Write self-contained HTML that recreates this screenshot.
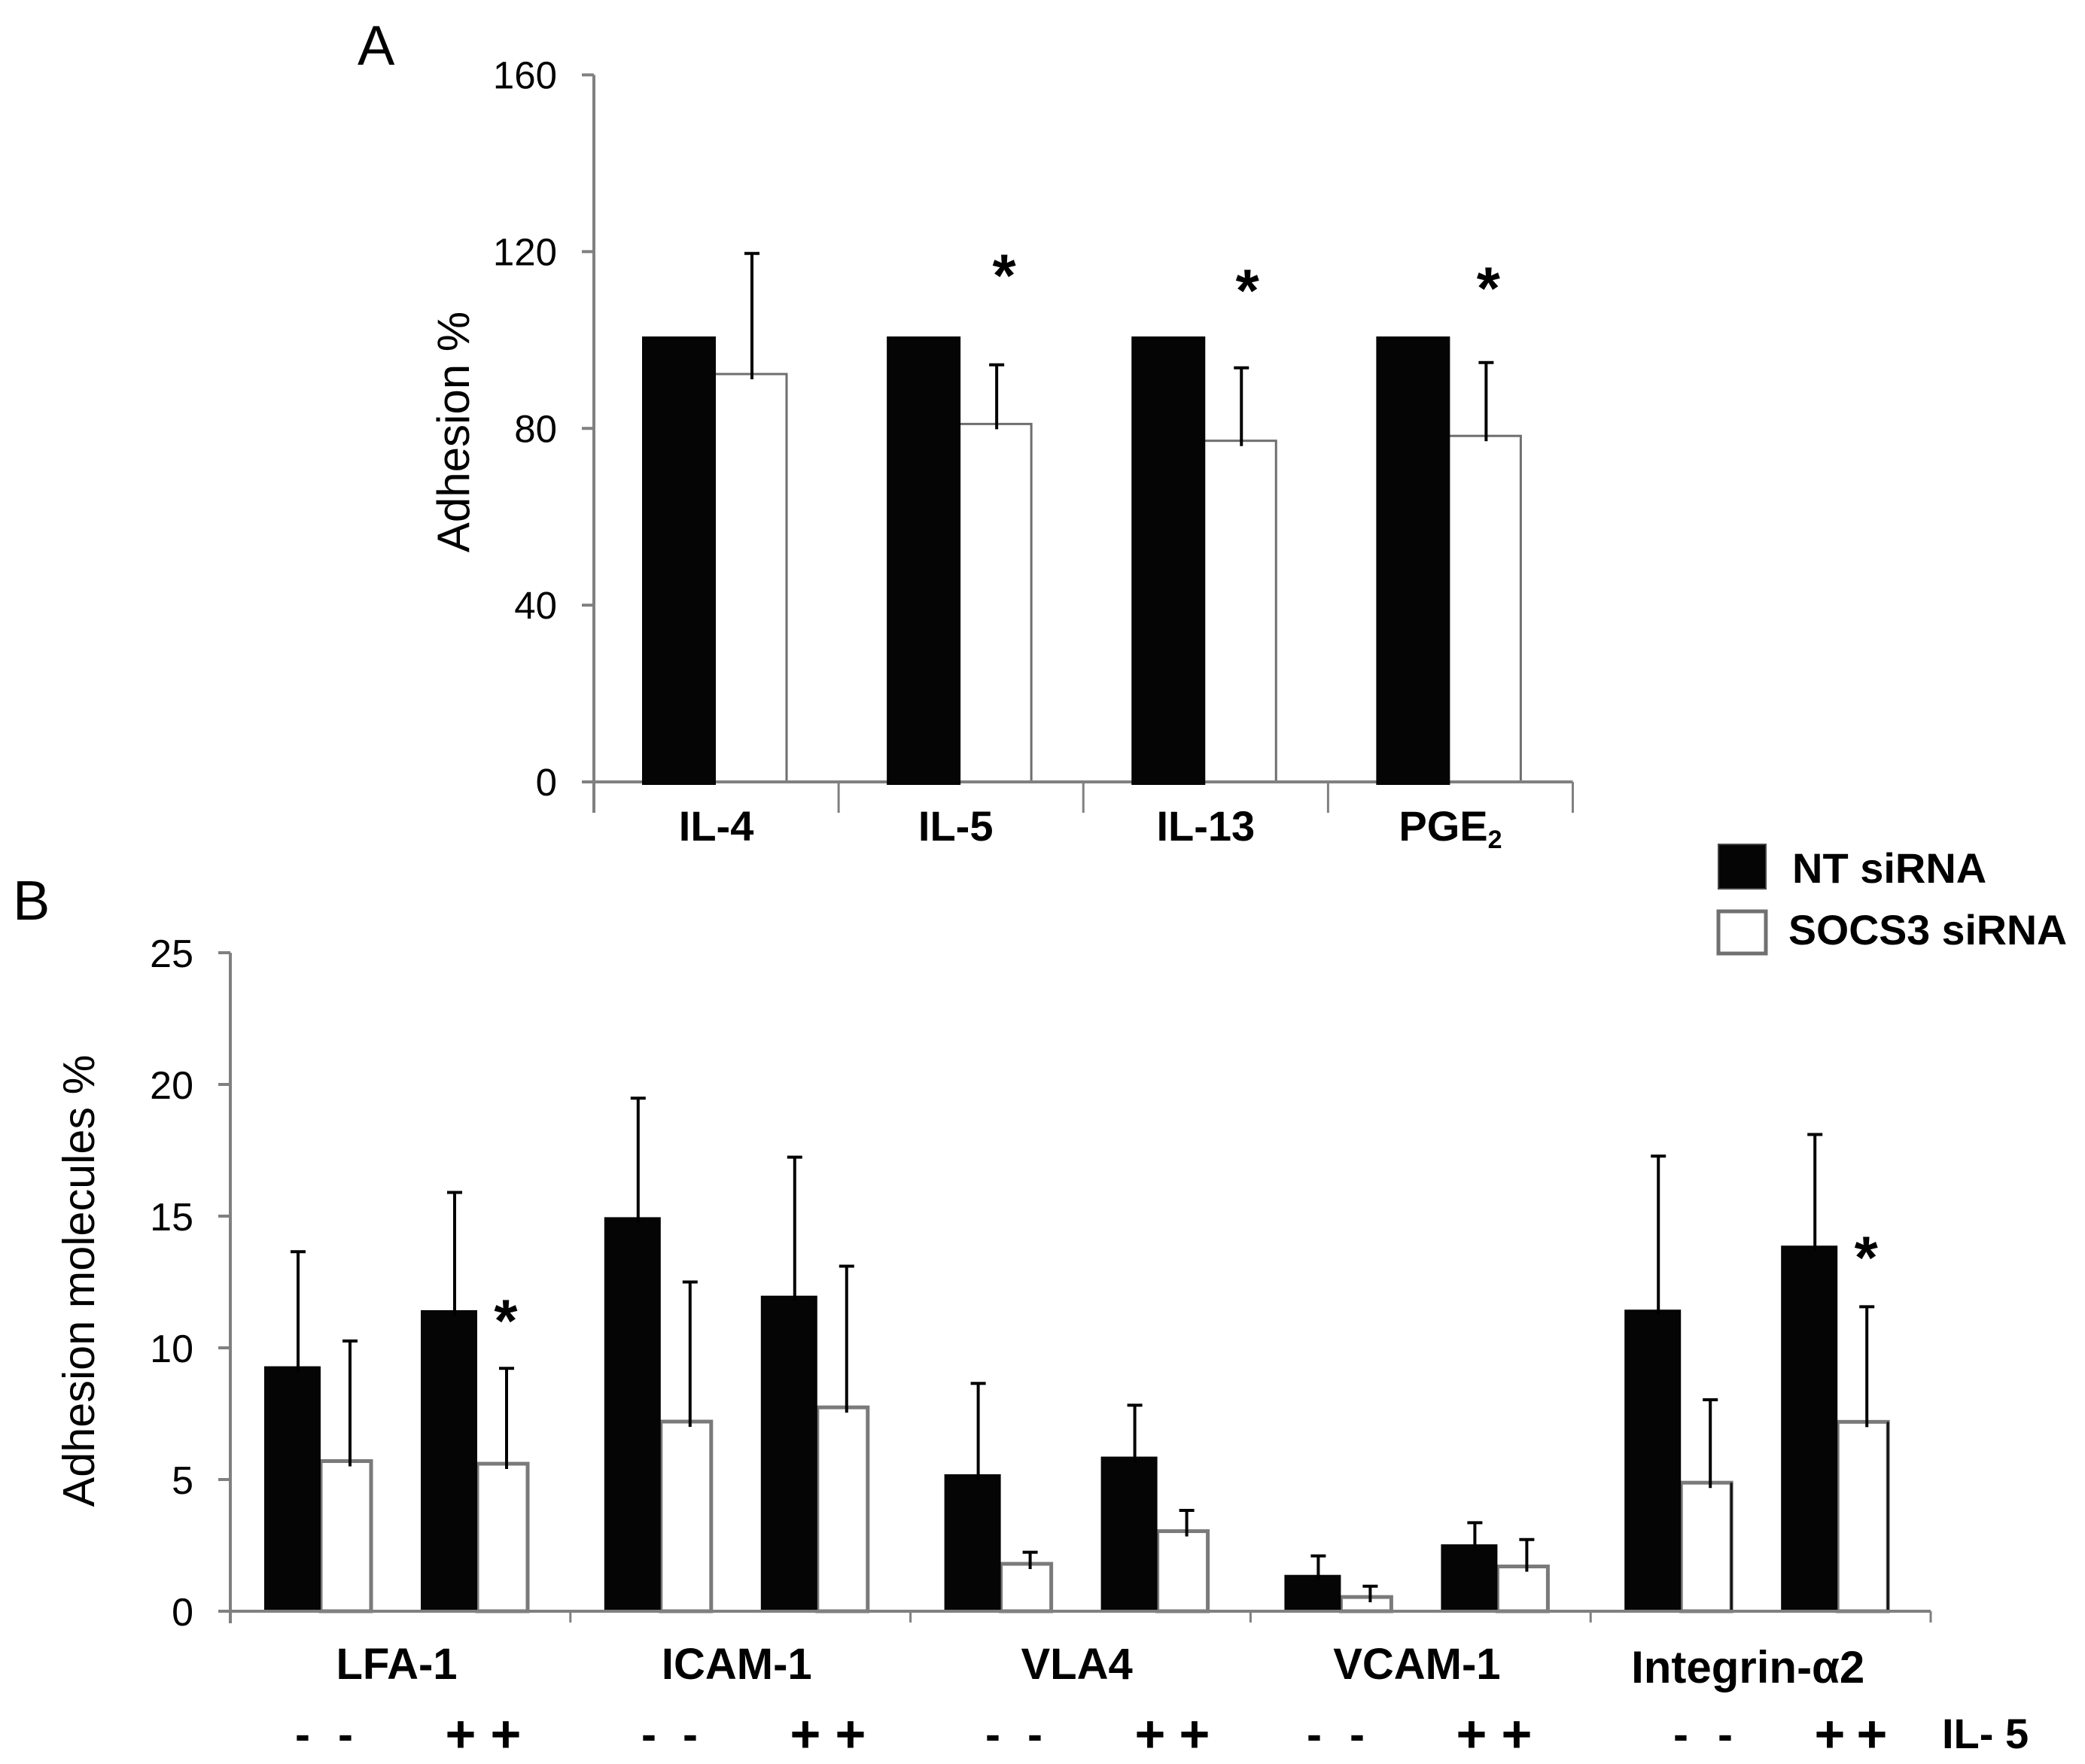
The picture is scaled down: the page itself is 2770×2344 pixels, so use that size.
<!DOCTYPE html>
<html lang="en">
<head>
<meta charset="utf-8">
<title>Adhesion charts</title>
<style>
  html, body { margin: 0; padding: 0; background: #fff; }
  svg { display: block; }
  text { font-family: "Liberation Sans", "DejaVu Sans", sans-serif; fill: #000; }
  .bold { font-weight: bold; }
  .sign-plus { font-weight: bold; font-size: 70px; text-anchor: middle; }
  .sign-minus { font-weight: bold; font-size: 60px; text-anchor: middle; }
</style>
</head>
<body>
<svg id="figure" xmlns="http://www.w3.org/2000/svg" width="2770" height="2344" viewBox="0 0 2770 2344">
  <rect x="0" y="0" width="2770" height="2344" fill="#fff"/>
  <text x="475" y="86" font-size="74">A</text>
  <text x="17" y="1222" font-size="74">B</text>
  <text transform="translate(623 574) rotate(-90)" text-anchor="middle" font-size="60">Adhesion %</text>
  <text transform="translate(125 1702) rotate(-90)" text-anchor="middle" font-size="59.4">Adhesion molecules %</text>
  <g>
    <rect x="2283" y="1122" width="63" height="59" fill="#050505" stroke="#444" stroke-width="2"/>
    <text class="bold" x="2381" y="1173" font-size="56">NT siRNA</text>
    <rect x="2283" y="1211" width="63" height="56" fill="#fff" stroke="#707070" stroke-width="5"/>
    <text class="bold" x="2376" y="1255" font-size="55.5">SOCS3 siRNA</text>
  </g>
  <g>
    <text class="sign-minus" x="402" y="2325">-</text>
    <text class="sign-minus" x="459" y="2325">-</text>
    <text class="sign-plus" x="612" y="2328">+</text>
    <text class="sign-plus" x="672" y="2328">+</text>
    <text class="sign-minus" x="862" y="2325">-</text>
    <text class="sign-minus" x="917" y="2325">-</text>
    <text class="sign-plus" x="1070" y="2328">+</text>
    <text class="sign-plus" x="1130" y="2328">+</text>
    <text class="sign-minus" x="1319" y="2325">-</text>
    <text class="sign-minus" x="1375" y="2325">-</text>
    <text class="sign-plus" x="1528" y="2328">+</text>
    <text class="sign-plus" x="1587" y="2328">+</text>
    <text class="sign-minus" x="1746" y="2325">-</text>
    <text class="sign-minus" x="1803" y="2325">-</text>
    <text class="sign-plus" x="1955" y="2328">+</text>
    <text class="sign-plus" x="2015" y="2328">+</text>
    <text class="sign-minus" x="2233" y="2325">-</text>
    <text class="sign-minus" x="2292" y="2325">-</text>
    <text class="sign-plus" x="2431" y="2328">+</text>
    <text class="sign-plus" x="2487" y="2328">+</text>
    <text class="bold" x="2580" y="2323" font-size="56">IL- 5</text>
  </g>
  <g id="chart-a"></g>
  <g id="chart-b"></g>
</svg>
<script>
// Panel A data
const categoriesA = ['IL-4', 'IL-5', 'IL-13', 'PGE'];
const subscriptsA = ['', '', '', '2'];
const ntValuesA = [100.8, 100.8, 100.8, 100.8];
const socsValuesA = [92.3, 81, 77.2, 78.3];
const socsErrorTopsA = [119.6, 94.4, 93.7, 94.9];
const starCategoriesA = [1, 2, 3];
const starValuesA = [116.4, 113, 113.5];
const ticksA = [0, 40, 80, 120, 160];

// Panel B data
const categoriesB = ['LFA-1', 'ICAM-1', 'VLA4', 'VCAM-1', 'Integrin-\u03B12'];
const ntValuesB = [9.3, 11.43, 14.96, 11.98, 5.2, 5.87, 1.38, 2.54, 11.45, 13.88];
const socsValuesB = [5.7, 5.6, 7.2, 7.74, 1.8, 3.04, 0.54, 1.7, 4.88, 7.19];
const ntErrorTopsB = [13.65, 15.9, 19.48, 17.24, 8.65, 7.82, 2.1, 3.36, 17.28, 18.1];
const socsErrorTopsB = [10.26, 9.22, 12.5, 13.1, 2.24, 3.83, 0.95, 2.72, 8.03, 11.56];
const starBarsB = [1, 9];
const starValuesB = [11.3, 13.7];
const ticksB = [0, 5, 10, 15, 20, 25];

const NS = 'http://www.w3.org/2000/svg';
function mk(parent, tag, attrs, txt) {
  const el = document.createElementNS(NS, tag);
  for (const k in attrs) el.setAttribute(k, attrs[k]);
  if (txt !== undefined) el.textContent = txt;
  parent.appendChild(el);
  return el;
}
const AXIS = '#808080';

// ---------- Panel A ----------
const ga = document.getElementById('chart-a');
const yA = v => 1039 - v * (1039 - 99.5) / 160;
const bandA = (2089.5 - 789) / categoriesA.length;
const xA = i => 789 + bandA * i;

function axisLine(parent, x1, y1, x2, y2, w) {
  return mk(parent, 'line', { x1: x1, y1: y1, x2: x2, y2: y2, stroke: AXIS, 'stroke-width': w });
}

let e;
e = axisLine(ga, 789, yA(160), 789, 1080, 4);


ticksA.forEach(t => {
  const l = axisLine(ga, 773, yA(t), 789, yA(t), 4);
  
  
  const s = mk(ga, 'text', { x: 740, y: yA(t) + 18, 'text-anchor': 'end', 'font-size': 51 }, String(t));
  
  
});

categoriesA.forEach((c, i) => {
  const x0 = xA(i) + 64;
  const sv = mk(ga, 'rect', { x: x0 + 96, y: yA(socsValuesA[i]), width: 96, height: 1039 - yA(socsValuesA[i]), fill: '#fff', stroke: '#6e6e6e', 'stroke-width': 3 });
  
  
  const cx = x0 + 146;
  const v = mk(ga, 'line', { x1: cx, y1: yA(socsErrorTopsA[i]), x2: cx, y2: yA(socsValuesA[i]) + 7, stroke: '#000', 'stroke-width': 4 });
  
  
  const cap = mk(ga, 'line', { x1: cx - 10, y1: yA(socsErrorTopsA[i]), x2: cx + 10, y2: yA(socsErrorTopsA[i]), stroke: '#000', 'stroke-width': 4 });
  
  
});

e = axisLine(ga, 773, 1039, 2089.5, 1039, 4);


for (let i = 1; i <= categoriesA.length; i++) {
  const t = axisLine(ga, xA(i), 1039, xA(i), 1080, 3);
  
  
}

function labelNudgeA(i) { return i === 1 ? -7 : 0; }
categoriesA.forEach((c, i) => {
  const x0 = xA(i) + 64;
  const b = mk(ga, 'rect', { x: x0, y: yA(ntValuesA[i]), width: 98, height: 1043 - yA(ntValuesA[i]), fill: '#050505' });
  
  
  const lab = mk(ga, 'text', { x: xA(i) + bandA / 2 + labelNudgeA(i), y: 1117, 'text-anchor': 'middle', 'font-size': 56, class: 'bold' }, c);
  
  
  if (subscriptsA[i]) {
    const ts = mk(lab, 'tspan', { dy: 10, 'font-size': 34 }, subscriptsA[i]);
    
    
  }
});

function starNudgeA(c) { return c === 3 ? -5 : c === 1 ? 2 : 0; }
starCategoriesA.forEach((c, i) => {
  const s = mk(ga, 'text', { x: xA(c) + 64 + 146 + 8 + starNudgeA(c), y: yA(starValuesA[i]) + 38, 'text-anchor': 'middle', 'font-size': 80, class: 'bold' }, '*');
  
  
});

// ---------- Panel B ----------
const gb = document.getElementById('chart-b');
const yB = v => 2141 - v * 35;
const bandB = (2565 - 306) / categoriesB.length;
const xB = i => 306 + bandB * i;
const barLeftB = i => xB(Math.floor(i / 2)) + 45 + (i % 2) * 208;

e = axisLine(gb, 306, yB(25), 306, 2157, 4);


ticksB.forEach(t => {
  const l = axisLine(gb, 290, yB(t), 306, yB(t), 4);
  
  
  const s = mk(gb, 'text', { x: 257, y: yB(t) + 19, 'text-anchor': 'end', 'font-size': 52 }, String(t));
  
  
});

ntValuesB.forEach((val, i) => {
  const x0 = barLeftB(i);
  const sv = mk(gb, 'rect', { x: x0 + 75, y: yB(socsValuesB[i]), width: 67, height: 2141 - yB(socsValuesB[i]), fill: '#fff', stroke: '#7a7a7a', 'stroke-width': 5 });
  
  
  if (i >= 8) {
    const edge = mk(gb, 'line', { x1: x0 + 142, y1: yB(socsValuesB[i]), x2: x0 + 142, y2: 2141, stroke: '#111', 'stroke-width': 3 });
    
    
  }
  const b = mk(gb, 'rect', { x: x0, y: yB(val), width: 75, height: 2141 - yB(val), fill: '#050505' });
  
  
});

e = axisLine(gb, 290, 2141, 2565, 2141, 4);


for (let i = 1; i <= categoriesB.length; i++) {
  const t = axisLine(gb, xB(i), 2141, xB(i), 2156, 3);
  
  
}

function errorB(x, top, value, nameV, nameC) {
  const v = mk(gb, 'line', { x1: x, y1: yB(top), x2: x, y2: yB(value) + 7, stroke: '#000', 'stroke-width': 4 });
  
  
  const c = mk(gb, 'line', { x1: x - 10, y1: yB(top), x2: x + 10, y2: yB(top), stroke: '#000', 'stroke-width': 4 });
  
  
}
ntValuesB.forEach((val, i) => {
  const x0 = barLeftB(i);
  errorB(x0 + 45, ntErrorTopsB[i], val, 'error-bar-nt-sirna', 'error-cap-nt-sirna');
  errorB(x0 + 114, socsErrorTopsB[i], socsValuesB[i], 'error-bar-socs3-sirna', 'error-cap-socs3-sirna');
});

categoriesB.forEach((c, i) => {
  const isLast = i === categoriesB.length - 1;
  const lab = mk(gb, 'text', { x: xB(i) + 221 + (isLast ? -12 : 0), y: isLast ? 2236 : 2231, 'text-anchor': 'middle', 'font-size': isLast ? 60 : 58, class: 'bold' }, c);
  
  
});

starBarsB.forEach((barIndex, i) => {
  const s = mk(gb, 'text', { x: barLeftB(barIndex) + 113, y: yB(starValuesB[i]) + 37, 'text-anchor': 'middle', 'font-size': 80, class: 'bold' }, '*');
  
  
});
</script>
</body>
</html>
